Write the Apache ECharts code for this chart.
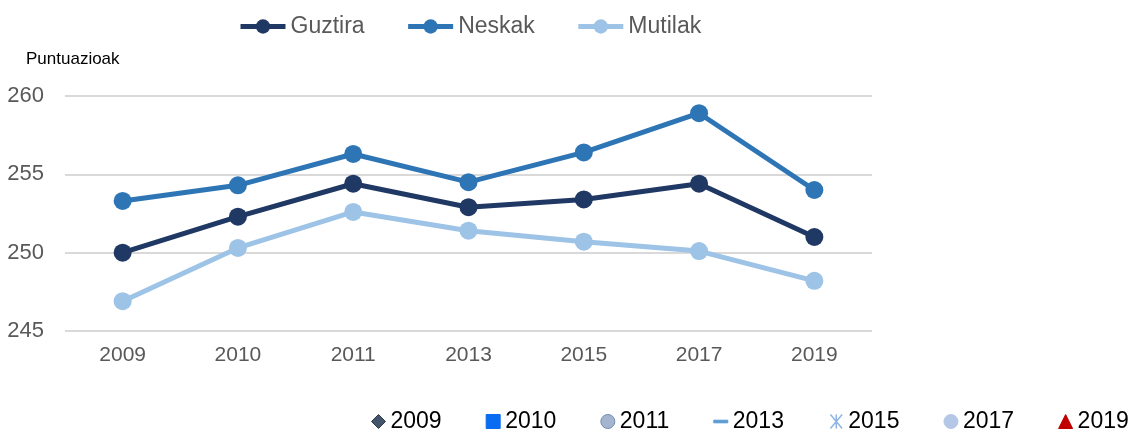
<!DOCTYPE html>
<html>
<head>
<meta charset="utf-8">
<script src="https://cdn.jsdelivr.net/npm/echarts@6/dist/echarts.min.js"></script>
<style>
  html, body { margin: 0; padding: 0; background: #fff; }
  #chart { width: 1130px; height: 430px; }
</style>
</head>
<body>
<div id="chart"></div>
<script>
// urteak eta puntuazioak
const years = ['2009', '2010', '2011', '2013', '2015', '2017', '2019'];
const guztira = [250.0, 252.3, 254.4, 252.9, 253.4, 254.4, 251.0];
const neskak = [253.3, 254.3, 256.3, 254.5, 256.4, 258.9, 254.0];
const mutilak = [246.9, 250.3, 252.6, 251.4, 250.7, 250.1, 248.2];
const yTicks = [245, 250, 255, 260];

// beheko legendako ikurrak
const yearLegend = [
  { name: '2009', icon: 'diamond', color: '#44546a', border: '#2f3b4a' },
  { name: '2010', icon: 'rect', color: '#0a6cf0', border: '#0a6cf0' },
  { name: '2011', icon: 'circle', color: '#a5b5cf', border: '#6f8bb3' },
  { name: '2013', icon: 'path://M0,0L16,0L16,3L0,3Z', color: '#5b9bd5', border: '#5b9bd5' },
  { name: '2015', icon: 'path://M0,0L10,12M10,0L0,12M5,0L5,12', color: 'none', border: '#8fb4e3' },
  { name: '2017', icon: 'circle', color: '#b4c7e7', border: '#b4c7e7' },
  { name: '2019', icon: 'triangle', color: '#c00000', border: '#c00000' }
];

const chart = echarts.init(document.getElementById('chart'));

const mainSeries = [
  { name: 'Guztira', data: guztira, color: '#203864' },
  { name: 'Neskak', data: neskak, color: '#2e75b6' },
  { name: 'Mutilak', data: mutilak, color: '#9dc3e6' }
].map(s => ({
  name: s.name,
  type: 'line',
  data: s.data,
  symbol: 'circle',
  symbolSize: 18,
  itemStyle: { color: s.color },
  lineStyle: { color: s.color, width: 5 },
  emphasis: { disabled: true }
}));

const dummySeries = yearLegend.map(y => ({
  name: y.name,
  type: 'line',
  data: [],
  symbolKeepAspect: true,
  itemStyle: { color: y.color === 'none' ? y.border : y.color }
}));

const option = {
  animation: false,
  title: {
    text: 'Puntuazioak',
    left: 21,
    top: 46,
    textStyle: { fontFamily: 'Liberation Sans', fontSize: 17, fontWeight: 'normal', color: '#000' }
  },
  legend: [
    {
      data: ['Guztira', 'Neskak', 'Mutilak'],
      left: 233,
      top: 10,
      itemWidth: 45,
      itemHeight: 18,
      itemGap: 41,
      lineStyle: { width: 5 },
      textStyle: { fontFamily: 'Liberation Sans', fontSize: 23, color: '#595959' }
    },
    {
      data: yearLegend.map(y => ({
        name: y.name,
        icon: y.icon,
        itemStyle: { color: y.color, borderColor: y.border, borderWidth: y.color === 'none' ? 1.5 : 1 }
      })),
      left: 366,
      top: 405,
      width: 764,
      itemWidth: 14,
      itemHeight: 14,
      itemGap: 44,
      textStyle: { fontFamily: 'Liberation Sans', fontSize: 23, color: '#000' }
    }
  ],
  grid: { left: 65, right: 258, top: 96, bottom: 99 },
  xAxis: {
    type: 'category',
    data: years,
    boundaryGap: true,
    axisLine: { show: false },
    axisTick: { show: false },
    axisLabel: {
      margin: 14,
      fontFamily: 'Liberation Sans',
      fontSize: 21,
      color: '#595959'
    }
  },
  yAxis: {
    type: 'value',
    min: yTicks[0],
    max: yTicks[yTicks.length - 1],
    interval: 5,
    axisLine: { show: false },
    axisTick: { show: false },
    splitLine: { lineStyle: { color: '#d9d9d9', width: 2 } },
    axisLabel: {
      margin: 21,
      fontFamily: 'Liberation Sans',
      fontSize: 22,
      color: '#595959'
    }
  },
  series: mainSeries.concat(dummySeries)
};

chart.setOption(option);
</script>
</body>
</html>
